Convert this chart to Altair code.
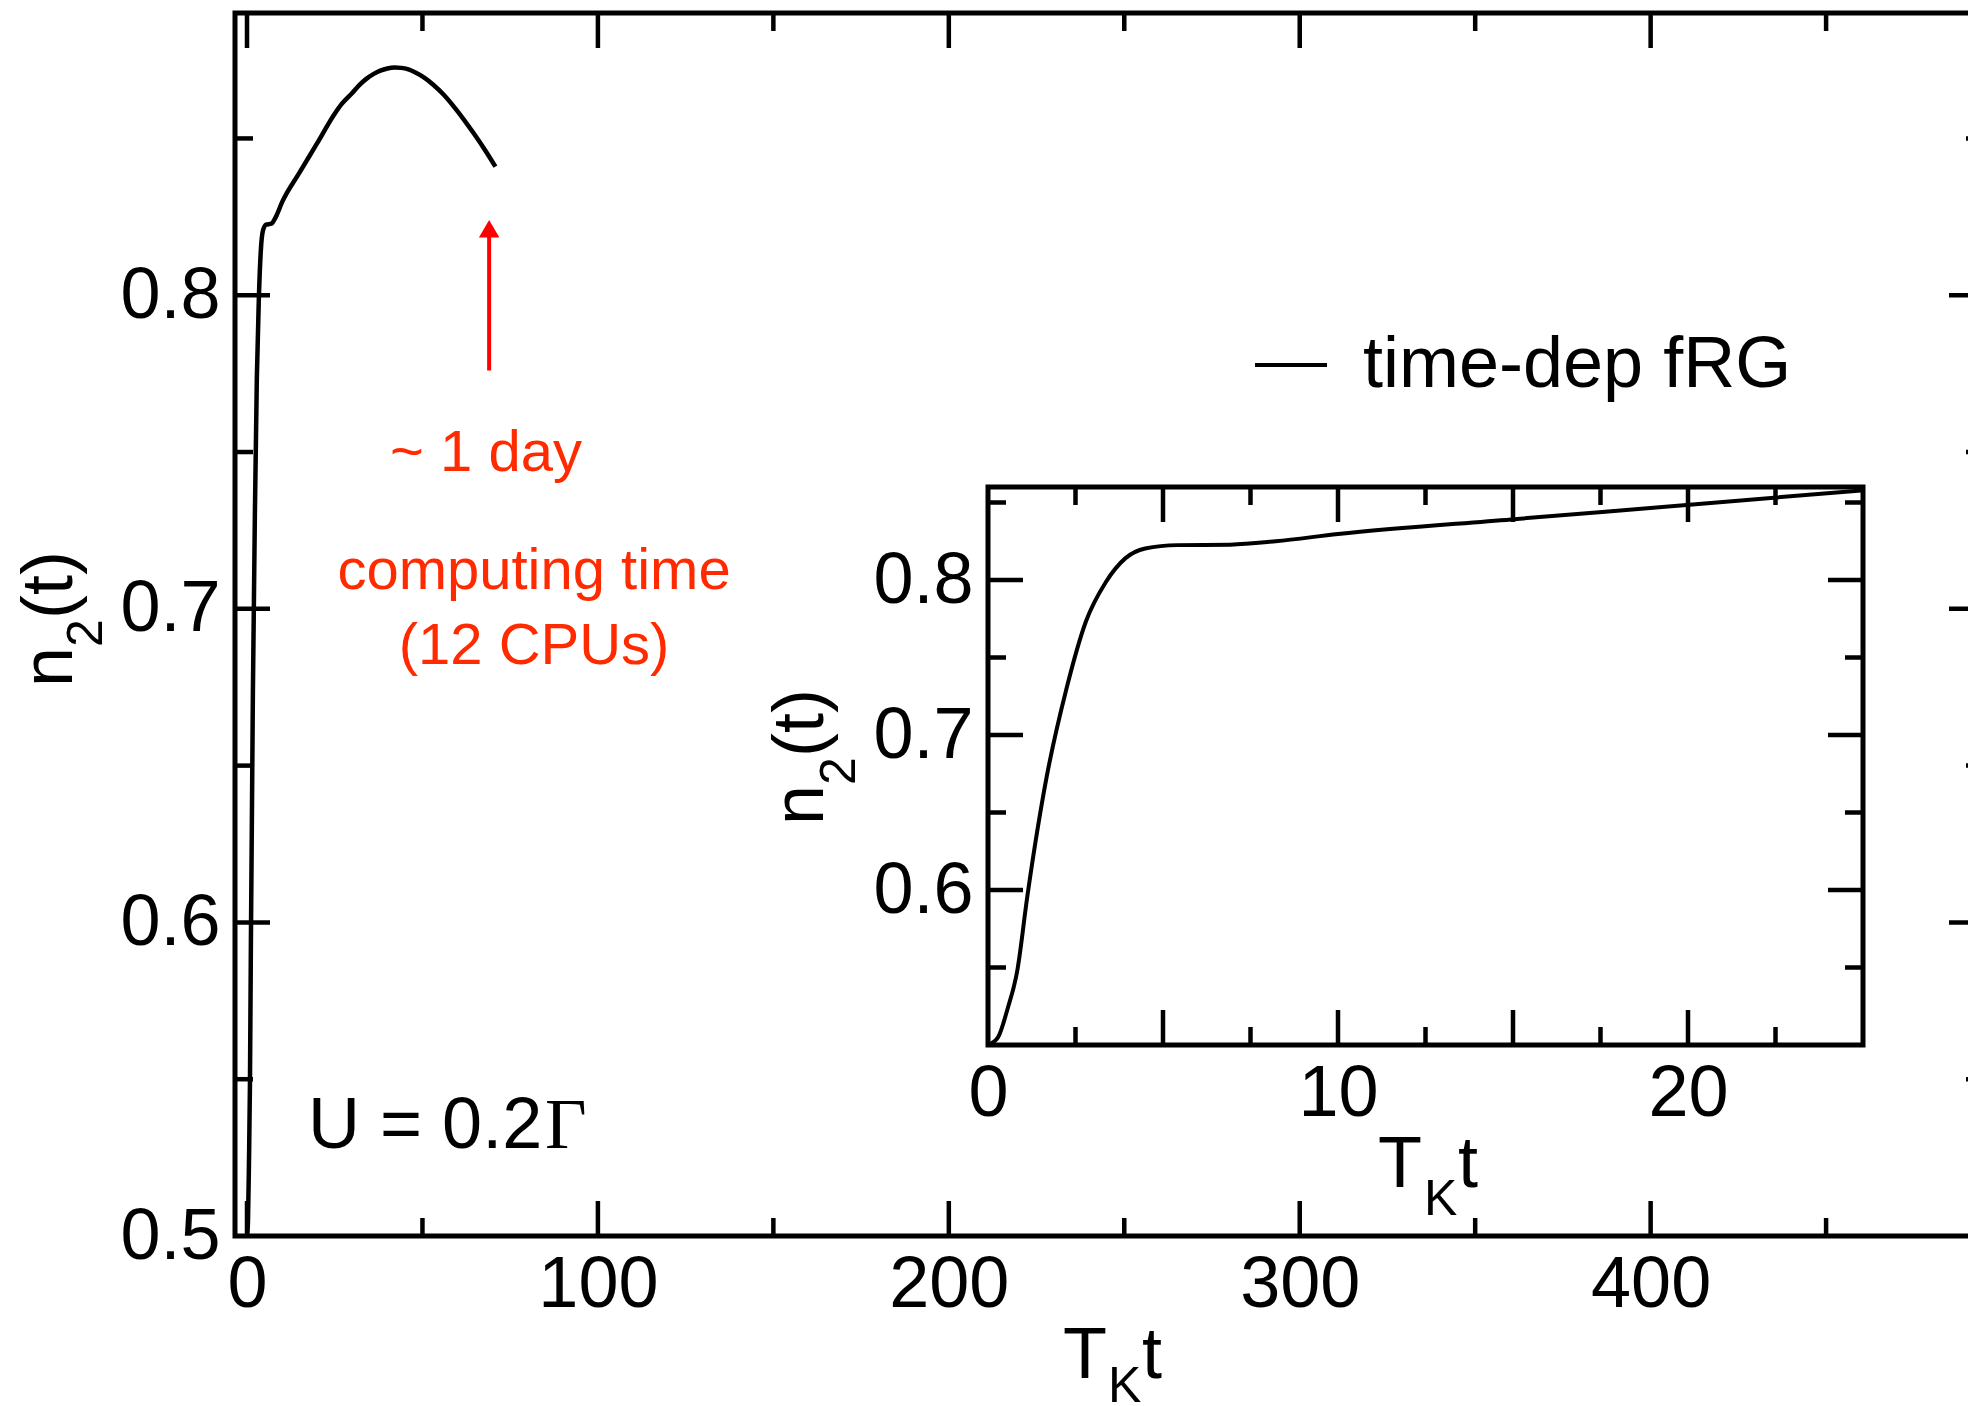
import altair as alt
import pandas as pd

# ---------------- data ----------------
t_vals = [0, 0.28, 0.56, 0.84, 1.12, 1.68, 2.24, 2.8, 3.36, 3.93, 4.49, 5.42, 6.92,
          8.22, 10, 14.95, 19.96, 24.95, 27, 30, 32, 34, 36, 38, 40, 42, 44, 46, 48,
          50.5, 53, 56, 59.4, 62, 65, 68, 70.8]
n_vals = [0.500, 0.5047, 0.5234, 0.5484, 0.5953, 0.6734, 0.7297, 0.7734, 0.7984,
          0.8141, 0.8203, 0.8225, 0.8228, 0.8250, 0.8297, 0.8391, 0.8484, 0.8578,
          0.8610, 0.8645, 0.8670, 0.8690, 0.8705, 0.8716, 0.8723, 0.8726, 0.8725,
          0.8720, 0.8710, 0.8694, 0.8672, 0.8640, 0.8595, 0.8557, 0.8510, 0.8460, 0.8410]
series_name = "time-dep fRG"

main_x_domain = [-3.42, 495]
main_y_domain = [0.5, 0.89]
main_x_labels = [0, 100, 200, 300, 400]
main_x_major = [0, 100, 200, 300, 400]
main_x_minor = [50, 150, 250, 350, 450]
main_y_labels = [0.5, 0.6, 0.7, 0.8]
main_y_major = [0.6, 0.7, 0.8]
main_y_minor = [0.55, 0.65, 0.75, 0.85]

inset_t_max = 25
inset_x_domain = [0, 25]
inset_y_domain = [0.5, 0.86]
inset_x_labels = [0, 10, 20]
inset_x_major = [5, 10, 15, 20]
inset_x_minor = [2.5, 7.5, 12.5, 17.5, 22.5]
inset_y_labels = [0.6, 0.7, 0.8]
inset_y_major = [0.6, 0.7, 0.8]
inset_y_minor = [0.55, 0.65, 0.75, 0.85]

note_text = ["~ 1 day", "computing time", "(12 CPUs)"]
note_t = [68.1, 81.8, 81.8]
note_n = [0.744, 0.7064, 0.6825]

arrow_t = [69.0]
arrow_tail_n = [0.776]
arrow_base_n = [0.8195]
arrow_head_n = [0.8212]

u_text = ["U = 0.2"]
u_t = [17.4]
u_n = [0.528]
gamma_text = ["Γ"]
gamma_t = [84.9]

# ---------------- style / layout ----------------
FONT = "Liberation Sans"
SERIF = "Liberation Serif"
RED_TEXT = "#ff2a00"
RED_ARROW = "#ff0000"
W, H = 1749, 1223
PAD = {"left": 227, "top": 5, "right": 1960 - 227 - W, "bottom": 166}
FS = 72
SUB = 50
MAJ, MIN = 35, 18
TICKW = 4.5

inset_x_range = [753, 1628]
inset_y_range = [1032, 474]

xs_main = alt.Scale(domain=main_x_domain, nice=False, zero=False)
ys_main = alt.Scale(domain=main_y_domain, nice=False, zero=False)
xs_in = alt.Scale(domain=inset_x_domain, range=inset_x_range, nice=False, zero=False)
ys_in = alt.Scale(domain=inset_y_domain, range=inset_y_range, nice=False, zero=False)

curve = pd.DataFrame({"t": t_vals, "n": n_vals, "series": [series_name] * len(t_vals)})


def axis_common(**kw):
    return alt.Axis(title=None, domain=False, ticks=False, tickSize=0, grid=False,
                    labelFontSize=FS, labelFont=FONT, labelColor="black",
                    labelFlush=False, labelOverlap=False, labelBound=False, **kw)


ax_main_x = axis_common(orient="bottom", values=main_x_labels, labelPadding=13, format="d")
ax_main_y = axis_common(orient="left", values=main_y_labels, labelPadding=15, format=".1f")
ax_in_x = axis_common(orient="bottom", values=inset_x_labels, labelPadding=13, format="d",
                      offset=inset_y_range[0] - H)
ax_in_y = axis_common(orient="left", values=inset_y_labels, labelPadding=15, format=".1f",
                      offset=-inset_x_range[0])


def hticks(values, edge, length, xs, ys, ax, ay):
    # ticks on a horizontal edge (top/bottom), pointing inward by `length` px
    df = pd.DataFrame({"v": values, "e": [edge] * len(values)})
    return alt.Chart(df).mark_rule(color="black", strokeWidth=TICKW, y2Offset=length).encode(
        x=alt.X("v:Q", scale=xs, axis=ax),
        y=alt.Y("e:Q", scale=ys, axis=ay),
        y2="e:Q",
    )


def vticks(values, edge, length, xs, ys, ax, ay):
    df = pd.DataFrame({"v": values, "e": [edge] * len(values)})
    return alt.Chart(df).mark_rule(color="black", strokeWidth=TICKW, x2Offset=length).encode(
        y=alt.Y("v:Q", scale=ys, axis=ay),
        x=alt.X("e:Q", scale=xs, axis=ax),
        x2="e:Q",
    )


def ticks_all(xmaj, xmin, ymaj, ymin, xdom, ydom, xs, ys, ax, ay):
    return [
        hticks(xmaj, ydom[0], -MAJ, xs, ys, ax, ay), hticks(xmin, ydom[0], -MIN, xs, ys, ax, ay),
        hticks(xmaj, ydom[1], MAJ, xs, ys, ax, ay), hticks(xmin, ydom[1], MIN, xs, ys, ax, ay),
        vticks(ymaj, xdom[0], MAJ, xs, ys, ax, ay), vticks(ymin, xdom[0], MIN, xs, ys, ax, ay),
        vticks(ymaj, xdom[1], -MAJ, xs, ys, ax, ay), vticks(ymin, xdom[1], -MIN, xs, ys, ax, ay),
    ]


def label_piece(txt, x, y, size=FS, angle=0, font=FONT):
    return alt.Chart().mark_text(text=txt, font=font, fontSize=size, align="left",
                                 baseline="alphabetic", angle=angle, color="black").encode(
        x=alt.value(x), y=alt.value(y))


def mx(field):
    return alt.X(field, scale=xs_main, axis=ax_main_x)


def my(field):
    return alt.Y(field, scale=ys_main, axis=ax_main_y)


# ---------------- main panel ----------------
main_line = alt.Chart(curve).mark_line(strokeWidth=4.5, interpolate="monotone").encode(
    x=mx("t:Q"),
    y=my("n:Q"),
    color=alt.Color("series:N", scale=alt.Scale(domain=[series_name], range=["black"]),
                    legend=alt.Legend(orient="none", legendX=1018, legendY=314, title=None,
                                      symbolType="stroke", symbolSize=72 * 72,
                                      symbolStrokeWidth=4, labelFontSize=FS, labelFont=FONT,
                                      labelColor="black", labelOffset=34, padding=0,
                                      labelLimit=2000)),
)

arrow_df = pd.DataFrame({"t": arrow_t, "n1": arrow_tail_n, "n2": arrow_base_n, "nh": arrow_head_n})
arrow_shaft = alt.Chart(arrow_df).mark_rule(color=RED_ARROW, strokeWidth=4).encode(
    x=mx("t:Q"), y=my("n1:Q"), y2="n2:Q")
arrow_head = alt.Chart(arrow_df).mark_point(shape="triangle-up", filled=True, size=420,
                                            color=RED_ARROW, opacity=1).encode(
    x=mx("t:Q"), y=my("nh:Q"))

notes_df = pd.DataFrame({"t": note_t, "n": note_n, "txt": note_text})
notes = alt.Chart(notes_df).mark_text(color=RED_TEXT, fontSize=58, font=FONT, align="center",
                                      baseline="alphabetic").encode(
    x=mx("t:Q"), y=my("n:Q"), text="txt:N")

u_df = pd.DataFrame({"t": u_t, "n": u_n, "txt": u_text})
u_label = alt.Chart(u_df).mark_text(color="black", fontSize=FS, font=FONT, align="left",
                                    baseline="alphabetic").encode(
    x=mx("t:Q"), y=my("n:Q"), text="txt:N")
g_df = pd.DataFrame({"t": gamma_t, "n": u_n, "txt": gamma_text})
g_label = alt.Chart(g_df).mark_text(color="black", fontSize=FS, font=SERIF, align="left",
                                    baseline="alphabetic").encode(
    x=mx("t:Q"), y=my("n:Q"), text="txt:N")

titles = [
    # main x title  T_K t
    label_piece("T", 828, 1365), label_piece("K", 873, 1389, SUB), label_piece("t", 907, 1365),
    # main y title  n_2(t)
    label_piece("n", -163, 674, angle=270), label_piece("2", -133, 634, SUB, angle=270),
    label_piece("(t)", -163, 606, angle=270),
    # inset x title
    label_piece("T", 1143, 1174), label_piece("K", 1189, 1202, SUB), label_piece("t", 1223, 1174),
    # inset y title
    label_piece("n", 588, 812, angle=270), label_piece("2", 620, 772, SUB, angle=270),
    label_piece("(t)", 588, 744, angle=270),
]

main = alt.layer(
    main_line,
    *ticks_all(main_x_major, main_x_minor, main_y_major, main_y_minor,
               main_x_domain, main_y_domain, xs_main, ys_main, ax_main_x, ax_main_y),
    arrow_shaft, arrow_head, notes, u_label, g_label, *titles,
)

# ---------------- inset panel ----------------
box_df = pd.DataFrame({"x1": [inset_x_domain[0]], "x2": [inset_x_domain[1]],
                       "y1": [inset_y_domain[0]], "y2": [inset_y_domain[1]]})
inset_box = alt.Chart(box_df).mark_rect(filled=False, stroke="black", strokeWidth=5).encode(
    x=alt.X("x1:Q", scale=xs_in, axis=ax_in_x), x2="x2:Q",
    y=alt.Y("y1:Q", scale=ys_in, axis=ax_in_y), y2="y2:Q")

inset_line = alt.Chart(curve).transform_filter(alt.datum.t <= inset_t_max).mark_line(
    strokeWidth=4, interpolate="monotone", color="black").encode(
    x=alt.X("t:Q", scale=xs_in, axis=ax_in_x),
    y=alt.Y("n:Q", scale=ys_in, axis=ax_in_y),
)

inset = alt.layer(
    inset_line, inset_box,
    *ticks_all(inset_x_major, inset_x_minor, inset_y_major, inset_y_minor,
               inset_x_domain, inset_y_domain, xs_in, ys_in, ax_in_x, ax_in_y),
)

chart = alt.layer(main, inset).resolve_scale(x="independent", y="independent").properties(
    width=W, height=H, padding=PAD, autosize=alt.AutoSizeParams(type="none"),
    background="white",
).configure_view(stroke="black", strokeWidth=5)

chart.save("out.html", embed_options={"renderer": "svg", "actions": False})
